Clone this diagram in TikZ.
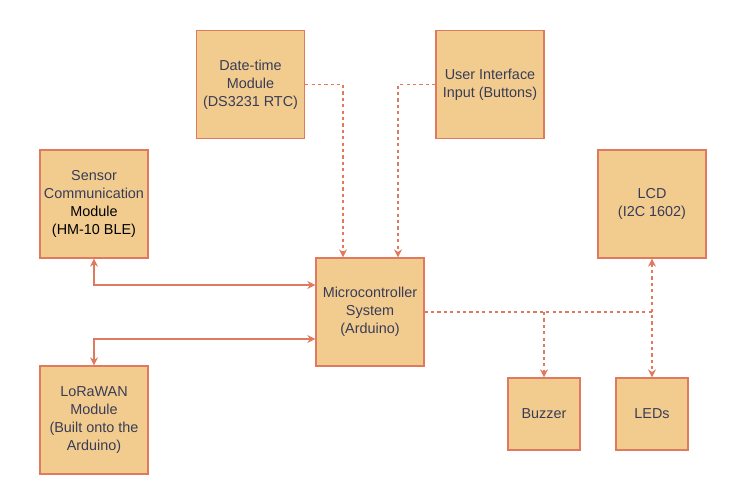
\documentclass[tikz,border=0pt]{standalone}
\usepackage{fontspec}
\setmainfont{Liberation Sans}
\usepackage{xcolor}
\usetikzlibrary{shapes, positioning, arrows.meta}

\definecolor{boxfill}{HTML}{F2CC8F}
\definecolor{boxline}{HTML}{E07A5F}
\definecolor{boxtext}{HTML}{393C56}

\begin{document}
\begin{tikzpicture}[x=0.75pt, y=-0.75pt,
  block/.style={draw=boxline, fill=boxfill, line width=1pt, text=boxtext, align=center,
    minimum width=81pt, minimum height=81pt, inner sep=1pt, font=\fontsize{10.8}{13.5}\selectfont},
  smallblock/.style={block, minimum width=54pt, minimum height=54pt},
  link/.style={draw=boxline, line width=0.8pt, {Stealth[length=6pt,width=6pt]}-{Stealth[length=6pt,width=6pt]}},
  tolink/.style={draw=boxline, line width=0.8pt, -{Stealth[length=6pt,width=6pt]}},
  dashlink/.style={dash pattern=on 2.4pt off 2.4pt}
]

% Marco de la imagen
\useasboundingbox (0,0) rectangle (742,492);

% Bloques de arriba
\node[block] (datetime) at (250.5,84.5) {Date-time\\Module\\(DS3231 RTC)};  % Reloj
\node[block] (userinput) at (490,84.5) {User Interface\\Input (Buttons)};  % Botones

% Bloques de la izquierda
\node[block] (sensor) at (94,204) {Sensor\\Communication\\\textcolor{black}{Module}\\\textcolor{black}{(HM-10 BLE)}};  % BLE
\node[block] (lorawan) at (94,420) {LoRaWAN\\Module\\(Built onto the\\Arduino)};  % LoRa

% Bloque central
\node[block] (micro) at (370,312) {Microcontroller\\System\\(Arduino)};

% Bloques de la derecha
\node[block] (lcd) at (652,204) {LCD\\(I2C 1602)};  % Pantalla
\node[smallblock] (buzzer) at (544,414) {Buzzer};
\node[smallblock] (leds) at (652,414) {LEDs};

% Conexiones de entrada (punteadas)
\draw[tolink, dashlink] (datetime.east) -| ([xshift=-20.25pt]micro.north);
\draw[tolink, dashlink] (userinput.west) -| ([xshift=21pt]micro.north);

% Conexiones en ambos sentidos
\draw[link] (sensor.south) |- ([yshift=20.25pt]micro.west);
\draw[link] (lorawan.north) |- ([yshift=-20.25pt]micro.west);

% Conexiones de salida (punteadas)
\draw[draw=boxline, line width=0.8pt, dashlink] (micro.east) -- (micro.east -| lcd.south);
\draw[tolink, dashlink] (micro.east -| buzzer.north) -- (buzzer.north);
\draw[link, dashlink] (lcd.south) -- (leds.north);

\end{tikzpicture}
\end{document}
